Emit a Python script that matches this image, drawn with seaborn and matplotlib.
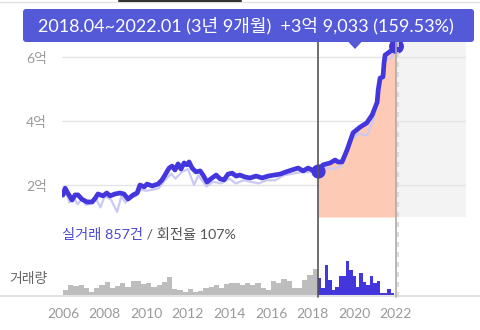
import numpy as np
import matplotlib
matplotlib.use("Agg")
import matplotlib.pyplot as plt
import matplotlib.transforms as mtransforms
from matplotlib.lines import Line2D
from matplotlib.patches import FancyBboxPatch, Polygon
import seaborn as sns

# ---- data -------------------------------------------------------------
# smoothed price trend (억 원) by decimal year
price_year = [2006.0, 2006.1, 2006.2, 2006.43, 2006.58, 2006.72, 2006.9, 2007.15,
              2007.4, 2007.55, 2007.68, 2007.92, 2008.1, 2008.26, 2008.5, 2008.74,
              2008.93, 2009.12, 2009.37, 2009.56, 2009.7, 2009.9, 2010.04, 2010.28,
              2010.57, 2010.76, 2010.9, 2011.1, 2011.24, 2011.38, 2011.53, 2011.67,
              2011.82, 2011.96, 2012.06, 2012.2, 2012.39, 2012.59, 2012.73, 2012.92,
              2013.1, 2013.36, 2013.55, 2013.74, 2013.93, 2014.13, 2014.32, 2014.5,
              2014.75, 2014.99, 2015.28, 2015.57, 2015.86, 2016.14, 2016.43, 2016.72,
              2017.0, 2017.3, 2017.54, 2017.78, 2017.97, 2018.25, 2018.5, 2018.84,
              2019.08, 2019.22, 2019.41, 2019.65, 2019.94, 2020.28, 2020.6, 2020.86,
              2021.1, 2021.15, 2021.24, 2021.38, 2021.43, 2021.48, 2021.63, 2021.82,
              2022.0]
price_value = [1.69, 1.90, 1.78, 1.53, 1.69, 1.69, 1.56, 1.47,
               1.47, 1.59, 1.72, 1.66, 1.75, 1.66, 1.72, 1.75,
               1.72, 1.56, 1.69, 1.75, 2.00, 1.94, 2.03, 1.97,
               2.03, 2.16, 2.31, 2.53, 2.59, 2.47, 2.66, 2.50,
               2.69, 2.63, 2.72, 2.53, 2.41, 2.44, 2.31, 2.09,
               2.19, 2.31, 2.19, 2.16, 2.34, 2.37, 2.28, 2.31,
               2.25, 2.22, 2.28, 2.22, 2.28, 2.31, 2.34, 2.41,
               2.47, 2.53, 2.44, 2.53, 2.47, 2.4467, 2.63, 2.69,
               2.78, 2.72, 2.72, 3.09, 3.63, 3.81, 3.94, 4.19,
               4.59, 4.97, 5.34, 5.38, 5.81, 6.06, 6.13, 6.22,
               6.35]

# individual deal prices (억 원)
deal_year = [2006.0, 2006.15, 2006.3, 2006.5, 2006.7, 2006.9, 2007.1, 2007.35,
             2007.6, 2007.8, 2008.0, 2008.3, 2008.6, 2008.8, 2009.0, 2009.2,
             2009.5, 2009.75, 2010.0, 2010.3, 2010.6, 2010.9, 2011.2, 2011.4,
             2011.7, 2012.0, 2012.3, 2012.5, 2012.9, 2013.2, 2013.6, 2014.0,
             2014.3, 2014.7, 2015.0, 2015.4, 2015.8, 2016.2, 2016.6, 2017.0,
             2017.4, 2017.8, 2018.25, 2018.6, 2019.0, 2019.4, 2019.8, 2020.2,
             2020.6, 2020.9, 2021.2, 2021.5, 2021.8, 2022.0]
deal_price = [1.62, 1.80, 1.45, 1.62, 1.40, 1.55, 1.38, 1.42,
              1.55, 1.30, 1.65, 1.55, 1.16, 1.65, 1.45, 1.60,
              1.65, 1.85, 1.82, 1.85, 1.90, 2.15, 2.35, 2.20,
              2.40, 2.50, 2.00, 2.30, 1.95, 2.10, 2.05, 2.20,
              2.05, 2.15, 2.10, 2.05, 2.15, 2.15, 2.30, 2.35,
              2.40, 2.40, 2.40, 2.55, 2.50, 2.60, 3.40, 3.60,
              3.55, 4.00, 5.00, 5.90, 6.00, 6.30]

# quarterly deal counts, 2006 Q1 .. 2018 Q1
volume_before = [5, 10, 9, 10, 7, 3, 7, 10, 13, 7, 9, 12, 8, 14, 14, 11,
                 12, 8, 10, 13, 18, 6, 5, 3, 6, 3, 4, 7, 8, 10, 7, 11,
                 12, 12, 10, 12, 10, 12, 7, 5, 14, 12, 16, 14, 7, 7, 15, 20,
                 26]
# bi-monthly deal counts, 2018.04 .. 2021.12
volume_period = [17, 7, 30, 15, 5, 8, 19, 19, 34, 25, 19, 8, 22, 13, 10, 19,
                 12, 14, 2, 2, 6, 2]

period_start, period_end = 2018.25, 2022.01
price_ticks = [2, 4, 6]
price_tick_labels = ["2억", "4억", "6억"]
year_ticks = list(range(2006, 2023, 2))
tooltip_text = "2018.04~2022.01 (3년 9개월)  +3억 9,033 (159.53%)"
deal_label = "실거래 857건"
turnover_label = " / 회전율 107%"
volume_label = "거래량"

# ---- style ------------------------------------------------------------
sns.set_theme(style="white")
plt.rcParams["font.family"] = ["Lato", "Noto Sans CJK KR", "DejaVu Sans"]

BLUE = "#4336dc"
TIP = "#5459d8"
SALMON = "#fdcab6"
GRAY_BAR = "#bdbdbd"
TICK = "#9a9a9a"

W, H = 480, 330
fig = plt.figure(figsize=(W / 100, H / 100), dpi=100)


def fx(px):
    return px / W


def fy(py):
    return 1 - py / H


X0, X1 = 2005.95, 2025.37
ax = fig.add_axes([fx(62), fy(217), fx(466) - fx(62), fy(42) - fy(217)])
axv = fig.add_axes([fx(62), fy(295), fx(466) - fx(62), fy(255) - fy(295)])

for a in (ax, axv):
    a.set_xlim(X0, X1)
    a.patch.set_alpha(0)
    for s in a.spines.values():
        s.set_visible(False)

# ---- price panel ------------------------------------------------------
ax.set_ylim(1.0, 6.46875)
ax.axvspan(period_end + 0.05, X1, color="#f3f3f3", lw=0, zorder=0)
ax.set_yticks(price_ticks)
ax.set_yticklabels(price_tick_labels)
ax.yaxis.grid(True, color="#e4e4e4", lw=1)
ax.xaxis.grid(False)
ax.set_xticks([])
ax.tick_params(axis="y", length=0, pad=11, labelsize=10, labelcolor=TICK)

py = np.array(price_year)
pv = np.array(price_value)
sel = py >= period_start
ax.fill_between(py[sel], pv[sel], 1.0, color=SALMON, lw=0, zorder=1)

sns.lineplot(x=deal_year, y=deal_price, ax=ax, color="#c9c9f3", lw=1.6,
             sort=False, estimator=None, zorder=2)
sns.lineplot(x=price_year, y=price_value, ax=ax, color=BLUE, lw=3.4,
             sort=False, estimator=None, zorder=3,
             solid_joinstyle="round", solid_capstyle="round")
i0 = int(sel.argmax())
ax.scatter([price_year[i0]], [price_value[i0]], s=105, color=BLUE, zorder=4, lw=0)
ax.scatter([price_year[-1]], [price_value[-1]], s=115, color=BLUE, zorder=4, lw=0)
ax.set_xlabel("")
ax.set_ylabel("")

# ---- volume panel -----------------------------------------------------
axv.set_ylim(0, 40)
edges_a = [2006.0 + 0.25 * k for k in range(len(volume_before) + 1)]
edges_b = [period_start + k / 6 for k in range(len(volume_period) + 1)]
axv.fill_between(edges_a, volume_before + [volume_before[-1]], step="post",
                 color=GRAY_BAR, lw=0)
axv.fill_between(edges_b, volume_period + [volume_period[-1]], step="post",
                 color=BLUE, lw=0)
axv.set_yticks([])
axv.set_xticks(year_ticks)
axv.set_xticklabels([str(y) for y in year_ticks])
axv.tick_params(axis="x", length=0, pad=9, labelsize=10, labelcolor=TICK)
axv.set_xlabel("")
axv.set_ylabel("")

# ---- period markers ---------------------------------------------------
trans = mtransforms.blended_transform_factory(ax.transData, fig.transFigure)
fig.add_artist(Line2D([period_start, period_start], [fy(42), fy(297)],
                      transform=trans, color="#555555", lw=1.2, zorder=5))
fig.add_artist(Line2D([period_end, period_end], [fy(42), fy(297)],
                      transform=trans, color="#aaaaaa", lw=1.2, zorder=5))
fig.add_artist(Line2D([period_end + 0.07, period_end + 0.07], [fy(42), fy(297)],
                      transform=trans, color="#d6d6d6", lw=1.2, ls=(0, (3, 3)),
                      zorder=5))

# baseline and top rule
fig.add_artist(Line2D([0, 1], [fy(296), fy(296)], color="#e3e3e3", lw=1.5))
fig.add_artist(Line2D([0, 1], [fy(2), fy(2)], color="#e2e2e2", lw=1))
fig.add_artist(Line2D([fx(119), fx(241)], [fy(0.5), fy(0.5)], color="#333333",
                      lw=1.5))

# ---- labels -----------------------------------------------------------
fig.text(fx(9), fy(278), volume_label, ha="left", va="center",
         color="#666666", fontsize=10)
t1 = fig.text(fx(62), fy(234), deal_label, ha="left", va="center",
              color="#4a4ad0", fontsize=10.3)
fig.canvas.draw()
bb = t1.get_window_extent(renderer=fig.canvas.get_renderer())
fig.text(bb.x1 / W, fy(234), turnover_label, ha="left", va="center",
         color="#555555", fontsize=10.3)

# ---- tooltip ----------------------------------------------------------
inch = fig.dpi_scale_trans
box = FancyBboxPatch((23 / 100, (H - 42) / 100), (474 - 23) / 100, 33 / 100,
                     boxstyle="round,pad=0,rounding_size=0.03",
                     transform=inch, color=TIP, lw=0, zorder=10)
fig.add_artist(box)
tri = Polygon([(348 / 100, (H - 41.5) / 100), (362 / 100, (H - 41.5) / 100),
               (355 / 100, (H - 49) / 100)], closed=True, transform=inch,
              color=TIP, lw=0, zorder=10)
fig.add_artist(tri)
fig.text(fx(246), fy(25.5), tooltip_text, ha="center", va="center",
         color="white", fontsize=13, zorder=11)

fig.savefig("out.png", dpi=100)
